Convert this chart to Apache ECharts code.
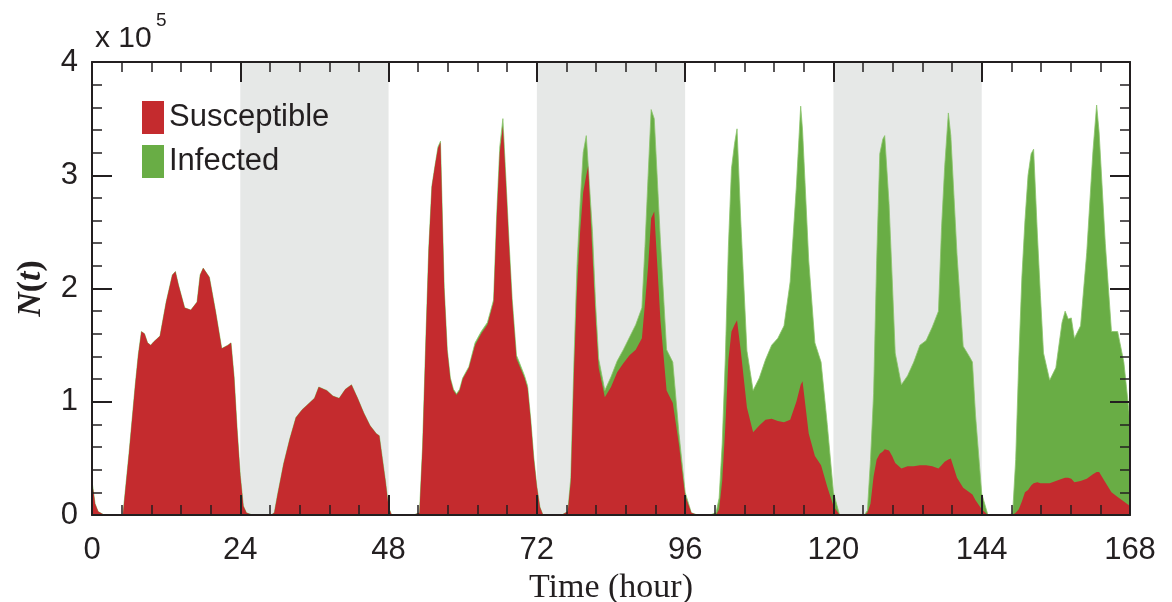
<!DOCTYPE html>
<html><head><meta charset="utf-8">
<script src="https://cdn.jsdelivr.net/npm/echarts@6/dist/echarts.min.js"></script>
<style>html,body{margin:0;padding:0;background:#fff}#chart{width:1172px;height:602px}</style>
</head><body><div id="chart"></div>
<script>
// time in hours (shared by both series)
const hours = [
  0, 0.5, 1, 2, 3, 4, 5, 6, 7, 7.5, 8, 8.5, 9, 9.5, 10, 11, 12, 13, 13.5, 14, 15, 16, 17, 17.5, 18, 19, 20, 21, 22, 22.5, 23, 23.5, 24, 24.5, 25, 26,
  27, 29, 29.5, 30, 31, 32, 33, 34, 35, 36, 36.7, 38, 39, 40, 41, 42, 42.3, 43, 44, 45, 46, 46.5, 47, 47.5, 48, 48.5, 50, 52,
  53, 53.5, 54, 54.5, 55, 55.5, 56, 56.4, 57, 57.5, 58, 58.5, 59, 59.5, 60, 61, 62, 63, 64, 65, 65.5, 66, 66.5, 67, 67.5, 68, 68.7, 69, 70, 70.5, 71, 71.5, 72, 72.5, 73, 75,
  76, 77, 77.5, 78, 78.5, 79, 79.5, 80, 80.3, 81, 81.5, 82, 83, 84, 85, 86, 87, 88, 89, 89.5, 90, 90.5, 91, 92, 93, 94, 95, 96, 97, 98,
  100, 101, 101.5, 102, 102.5, 103, 103.5, 104, 104.4, 105, 106, 107, 108, 109, 110, 111, 112, 113, 114, 114.7, 115, 116, 117, 118, 119, 120, 121, 123,
  124, 125, 125.5, 126, 126.5, 127, 127.5, 128, 128.3, 129, 129.5, 130, 131, 132, 133, 134, 135, 136, 137, 137.5, 138, 138.6, 139, 140, 141, 142, 142.5, 143, 144, 145, 147,
  148, 149, 149.5, 150, 150.5, 151, 151.5, 152, 152.4, 153, 153.5, 154, 155, 156, 157, 157.5, 158, 158.5, 159, 160, 161, 162, 162.6, 163, 164, 165, 166, 167, 168
];
// susceptible, in units of 1e5
const susceptible = [
  0.30, 0.10, 0.03, 0, 0, 0, 0, 0.55, 1.15, 1.42, 1.62, 1.60, 1.52, 1.50, 1.53, 1.58, 1.88, 2.12, 2.15, 2.03, 1.83, 1.81, 1.88, 2.12, 2.18, 2.10, 1.80, 1.47, 1.50, 1.52, 1.22, 0.75, 0.35, 0.08, 0.02, 0,
  0, 0, 0.02, 0.17, 0.45, 0.67, 0.86, 0.93, 0.98, 1.03, 1.13, 1.10, 1.05, 1.03, 1.11, 1.15, 1.16, 1.03, 0.90, 0.79, 0.72, 0.70, 0.50, 0.30, 0.07, 0, 0, 0,
  0.02, 0.6, 1.5, 2.35, 2.9, 3.08, 3.24, 3.29, 2.0, 1.45, 1.2, 1.1, 1.06, 1.1, 1.2, 1.3, 1.5, 1.6, 1.68, 1.88, 2.62, 3.2, 3.43, 2.92, 2.38, 1.88, 1.38, 1.34, 1.21, 1.12, 0.84, 0.5, 0.25, 0.07, 0, 0,
  0, 0.03, 0.3, 1.25, 2.0, 2.5, 2.85, 3.0, 3.08, 2.3, 1.75, 1.3, 1.04, 1.13, 1.26, 1.34, 1.41, 1.46, 1.56, 1.87, 2.19, 2.62, 2.68, 1.72, 1.1, 0.99, 0.62, 0.17, 0.02, 0,
  0, 0, 0.05, 0.3, 0.78, 1.37, 1.62, 1.68, 1.72, 1.45, 0.95, 0.73, 0.79, 0.84, 0.85, 0.83, 0.82, 0.84, 1.0, 1.15, 1.18, 0.72, 0.52, 0.44, 0.25, 0.08, 0, 0,
  0, 0, 0.02, 0.1, 0.34, 0.49, 0.54, 0.56, 0.58, 0.57, 0.52, 0.46, 0.41, 0.43, 0.43, 0.44, 0.44, 0.43, 0.41, 0.44, 0.47, 0.49, 0.5, 0.33, 0.24, 0.2, 0.18, 0.13, 0.05, 0, 0,
  0, 0, 0.02, 0.05, 0.12, 0.2, 0.22, 0.26, 0.28, 0.29, 0.28, 0.28, 0.28, 0.3, 0.32, 0.33, 0.33, 0.32, 0.29, 0.3, 0.32, 0.36, 0.38, 0.38, 0.29, 0.2, 0.16, 0.12, 0.08
];
// infected, in units of 1e5
const infected = [
  0, 0, 0, 0, 0, 0, 0, 0, 0, 0, 0, 0, 0, 0, 0, 0, 0, 0, 0, 0, 0, 0, 0, 0, 0, 0, 0, 0, 0, 0, 0, 0, 0, 0, 0, 0,
  0, 0, 0, 0, 0, 0, 0, 0, 0, 0, 0, 0, 0, 0, 0, 0, 0, 0, 0, 0, 0, 0, 0, 0, 0, 0, 0, 0,
  0, 0, 0, 0, 0, 0, 0.01, 0.01, 0.01, 0.01, 0.01, 0.01, 0.01, 0.01, 0.01, 0.01, 0.02, 0.02, 0.02, 0.02, 0.03, 0.05, 0.07, 0.04, 0.03, 0.03, 0.03, 0.03, 0.02, 0.02, 0.01, 0.01, 0, 0, 0, 0,
  0, 0, 0.03, 0.1, 0.2, 0.25, 0.35, 0.35, 0.27, 0.2, 0.12, 0.08, 0.06, 0.09, 0.1, 0.12, 0.16, 0.22, 0.27, 0.5, 0.8, 0.96, 0.82, 0.7, 0.36, 0.36, 0.1, 0.03, 0, 0,
  0, 0.02, 0.1, 0.33, 0.6, 1.0, 1.44, 1.6, 1.69, 1.15, 0.5, 0.37, 0.42, 0.53, 0.65, 0.73, 0.85, 1.22, 1.9, 2.46, 2.22, 1.53, 1.0, 0.91, 0.55, 0.12, 0, 0,
  0, 0, 0.02, 0.39, 0.73, 1.76, 2.65, 2.76, 2.77, 2.18, 1.58, 0.97, 0.74, 0.8, 0.92, 1.06, 1.1, 1.23, 1.39, 2.1, 2.6, 3.06, 2.85, 1.97, 1.25, 1.2, 1.17, 0.75, 0.14, 0, 0,
  0, 0.01, 0.47, 1.32, 1.98, 2.4, 2.78, 2.93, 2.95, 2.2, 1.66, 1.15, 0.91, 1.0, 1.38, 1.47, 1.4, 1.42, 1.27, 1.37, 2.0, 2.85, 3.24, 3.0, 2.11, 1.42, 1.46, 1.23, 0.75
];
const seriesNames = ['Susceptible', 'Infected'];
const nightBands = [[24, 48], [72, 96], [120, 144]];
const xRange = [0, 168];
const yRange = [0, 4];

const RED = '#c42b2e', GREEN = '#69ad45', GRAY = '#e6e8e7', INK = '#231f20';
const SANS = '"Liberation Sans", Arial, Helvetica, sans-serif';
const SERIF = '"Liberation Serif", "DejaVu Serif", serif';

// stacked layers: red = susceptible, green sits on top of it (susceptible + infected)
const redLayer = hours.map((h, i) => [h, susceptible[i]]);
const greenTop = hours.map((h, i) => [h, susceptible[i] + infected[i]]);

const chart = echarts.init(document.getElementById('chart'), null, {renderer: 'canvas'});
const axisBase = {
  type: 'value',
  axisLine: {show: true, onZero: false, lineStyle: {color: INK, width: 2}},
  axisTick: {show: true, inside: true, length: 20, lineStyle: {color: INK, width: 2}},
  minorTick: {show: true, splitNumber: 5, length: 10, lineStyle: {color: INK, width: 1.5}},
  splitLine: {show: false},
  minorSplitLine: {show: false},
  z: 10
};
chart.setOption({
  animation: false,
  backgroundColor: '#fff',
  title: [
    {text: 'x 10', left: 90, top: 19, textStyle: {fontFamily: SANS, fontSize: 30, fontWeight: 'normal', color: INK}},
    {text: '5', left: 151, top: 6, textStyle: {fontFamily: SANS, fontSize: 19, fontWeight: 'normal', color: INK}}
  ],
  grid: {left: 92, right: 42, top: 62, bottom: 87, containLabel: false, outerBoundsMode: 'none'},
  legend: {
    data: [
      {name: seriesNames[0], itemStyle: {color: RED}},
      {name: seriesNames[1], itemStyle: {color: GREEN}}
    ],
    orient: 'vertical', left: 142, top: 101, padding: 0,
    itemWidth: 22, itemHeight: 33, itemGap: 11, icon: 'rect',
    textStyle: {fontFamily: SANS, fontSize: 31, color: INK}
  },
  xAxis: [
    Object.assign({}, axisBase, {
      position: 'bottom', min: xRange[0], max: xRange[1], interval: 24,
      axisLabel: {fontFamily: SANS, fontSize: 31, color: INK, margin: 20},
      name: 'Time (hour)', nameLocation: 'middle', nameGap: 42,
      nameTextStyle: {fontFamily: SERIF, fontSize: 34, color: INK}
    }),
    Object.assign({}, axisBase, {
      position: 'top', min: xRange[0], max: xRange[1], interval: 24, axisLabel: {show: false}
    })
  ],
  yAxis: [
    Object.assign({}, axisBase, {
      position: 'left', min: yRange[0], max: yRange[1], interval: 1,
      axisLabel: {fontFamily: SANS, fontSize: 31, color: INK, margin: 14},
      name: '{i|N}{r|(}{i|t}{r|)}', nameLocation: 'middle', nameGap: 44, nameRotate: 90,
      nameTextStyle: {color: INK, rich: {
        i: {fontFamily: SERIF, fontSize: 34, fontStyle: 'italic', fontWeight: 'bold', color: INK},
        r: {fontFamily: SERIF, fontSize: 34, fontWeight: 'bold', color: INK}
      }}
    }),
    Object.assign({}, axisBase, {
      position: 'right', min: yRange[0], max: yRange[1], interval: 1, axisLabel: {show: false}
    })
  ],
  series: [
    {
      name: seriesNames[1], type: 'line', xAxisIndex: 0, yAxisIndex: 0,
      data: greenTop,
      symbol: 'none', showSymbol: false, smooth: false,
      lineStyle: {width: 0.8, color: '#8cc46c'}, itemStyle: {color: GREEN}, areaStyle: {color: GREEN, opacity: 1},
      z: 2,
      markArea: {silent: true, itemStyle: {color: GRAY}, z: 1,
        data: nightBands.map(b => [{xAxis: b[0]}, {xAxis: b[1]}])}
    },
    {
      name: seriesNames[0], type: 'line', xAxisIndex: 0, yAxisIndex: 0,
      data: redLayer,
      symbol: 'none', showSymbol: false, smooth: false,
      lineStyle: {width: 0}, itemStyle: {color: RED}, areaStyle: {color: RED, opacity: 1},
      z: 3
    }
  ]
});
</script>
</body></html>
